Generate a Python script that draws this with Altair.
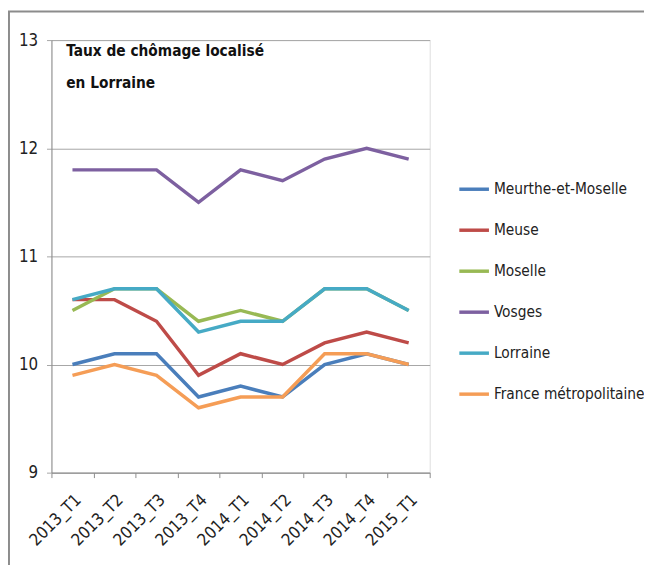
import altair as alt
import pandas as pd

quarters = ["2013_T1", "2013_T2", "2013_T3", "2013_T4", "2014_T1", "2014_T2", "2014_T3", "2014_T4", "2015_T1"]
series_names = ["Meurthe-et-Moselle", "Meuse", "Moselle", "Vosges", "Lorraine", "France métropolitaine"]
meurthe = [10.0, 10.1, 10.1, 9.7, 9.8, 9.7, 10.0, 10.1, 10.0]
meuse = [10.6, 10.6, 10.4, 9.9, 10.1, 10.0, 10.2, 10.3, 10.2]
moselle = [10.5, 10.7, 10.7, 10.4, 10.5, 10.4, 10.7, 10.7, 10.5]
vosges = [11.8, 11.8, 11.8, 11.5, 11.8, 11.7, 11.9, 12.0, 11.9]
lorraine = [10.6, 10.7, 10.7, 10.3, 10.4, 10.4, 10.7, 10.7, 10.5]
france = [9.9, 10.0, 9.9, 9.6, 9.7, 9.7, 10.1, 10.1, 10.0]
colors = ["#4A7EBB", "#BE4B48", "#98B954", "#7D60A0", "#46AAC5", "#F59D56"]
title_line1 = "Taux de chômage localisé"
title_line2 = "en Lorraine"

FONT = "DejaVu Sans Condensed, DejaVu Sans, sans-serif"

values = [meurthe, meuse, moselle, vosges, lorraine, france]
rows = []
for name, vals in zip(series_names, values):
    for q, v in zip(quarters, vals):
        rows.append({"Trimestre": q, "Série": name, "Taux": v})
df = pd.DataFrame(rows)

W, H = 383, 438

lines = alt.Chart(df).mark_line(strokeWidth=3.5).encode(
    x=alt.X("Trimestre:N", sort=quarters, bandPosition=0.5,
            scale=alt.Scale(type="band", paddingInner=0, paddingOuter=0),
            axis=alt.Axis(title=None, labelAngle=-45, tickBand="extent", grid=False,
                          labelFontSize=17, labelColor="#222222", labelFont=FONT,
                          domainColor="#8C8C8C", tickColor="#8C8C8C", tickSize=5,
                          labelPadding=14)),
    y=alt.Y("Taux:Q", scale=alt.Scale(domain=[9, 13], nice=False, zero=False),
            axis=alt.Axis(title=None, values=[9, 10, 11, 12, 13], format="d",
                          labelFontSize=17, labelColor="#222222", labelFont=FONT,
                          gridColor="#A6A6A6", domainColor="#8C8C8C", tickColor="#A6A6A6",
                          tickSize=5, labelPadding=9)),
    color=alt.Color("Série:N", scale=alt.Scale(domain=series_names, range=colors),
                    legend=alt.Legend(title=None, orient="none", legendX=411, legendY=134,
                                      symbolType="stroke", symbolSize=900, symbolStrokeWidth=3.5,
                                      labelFontSize=15.5, labelFont=FONT, labelColor="#222222",
                                      rowPadding=15.5, labelOffset=3, labelLimit=300)),
)

one = pd.DataFrame({"k": [0]})
t1 = alt.Chart(one).mark_text(align="left", baseline="middle", fontSize=15.5, fontWeight="bold",
                              font=FONT, color="#111111", text=title_line1).encode(
    x=alt.value(15), y=alt.value(11))
t2 = alt.Chart(one).mark_text(align="left", baseline="middle", fontSize=15.5, fontWeight="bold",
                              font=FONT, color="#111111", text=title_line2).encode(
    x=alt.value(15), y=alt.value(43))

frame_left = alt.Chart(one).mark_rule(color="#8C8C8C", strokeWidth=2).encode(
    x=alt.value(-43), y=alt.value(-29), y2=alt.value(560))
frame_top = alt.Chart(one).mark_rule(color="#8C8C8C", strokeWidth=2).encode(
    x=alt.value(-44), x2=alt.value(620), y=alt.value(-29))

chart = alt.layer(lines, t1, t2, frame_left, frame_top).properties(
    width=W, height=H,
    padding={"left": 44, "top": 29, "right": 217, "bottom": 90},
    autosize=alt.AutoSizeParams(type="none"),
).configure_view(stroke=None).configure(background="white")

chart.save("out.html", embed_options={"renderer": "svg", "actions": False})
